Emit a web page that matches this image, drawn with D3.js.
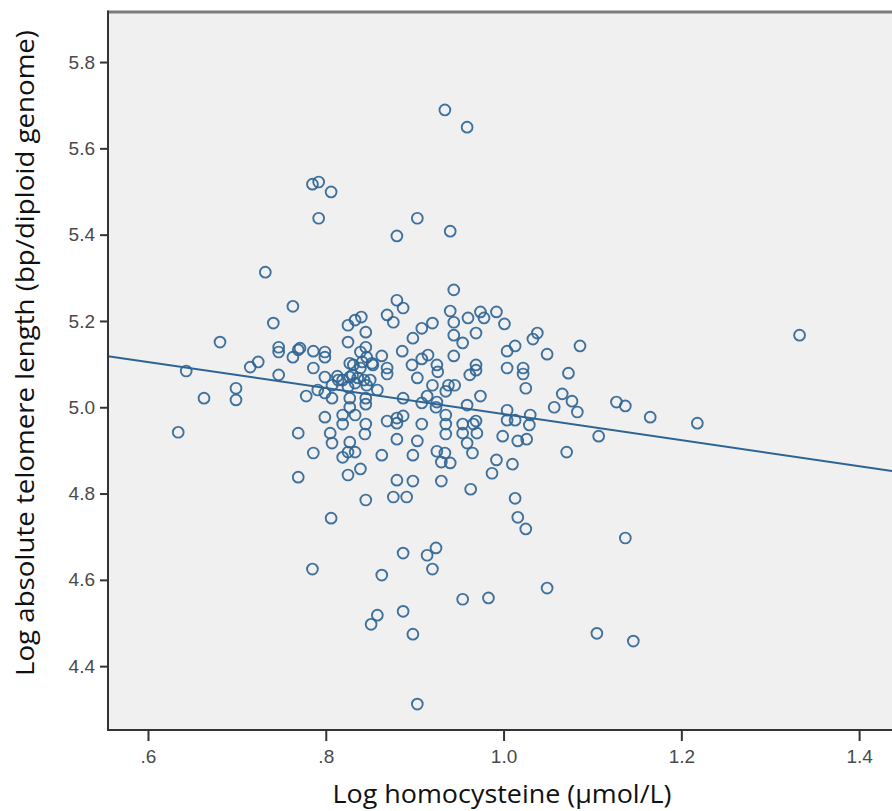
<!DOCTYPE html>
<head>
    <meta charset="utf-8">
    <title>Telomere length vs homocysteine</title>
    <script src="https://cdn.jsdelivr.net/npm/d3@7"></script>
    <style>
        body { margin: 0; background: #fff; }
    </style>
</head>
<body>
<div id="container"></div>

<script>

// Données (log homocysteine, log telomere length)
const hcy = [
    0.934, 0.959, 0.785, 0.792, 0.806, 0.792, 0.880, 0.903, 0.940, 0.732,
    0.763, 0.741, 0.681, 0.747, 0.747, 0.643, 0.715, 0.724, 0.747, 0.763,
    0.699, 0.699, 0.663, 0.634, 0.769, 0.769, 0.769,
    0.785, 0.887, 0.914, 0.924, 0.920, 0.863, 0.954, 0.983, 1.049, 0.858,
    0.851, 0.887, 0.898, 0.903, 1.105,
    1.333, 1.127, 1.137, 1.165, 1.218, 1.107, 1.137, 1.146,
    0.944, 0.940, 0.960, 0.974, 0.978, 0.992, 1.001, 0.944, 0.944, 0.954,
    0.969, 0.880, 0.887, 0.869, 0.876, 0.840, 0.833, 0.825, 0.845, 0.825,
    0.845, 0.839, 0.846, 0.852, 0.831, 0.839, 0.920, 0.908, 0.898, 0.886,
    0.915, 0.908, 0.925, 0.897, 0.869, 0.869, 0.863, 1.038, 1.033, 1.013,
    1.004, 1.049, 1.086, 0.944, 0.969, 0.969, 0.962, 1.004, 1.022, 1.022,
    1.073, 1.025, 0.771, 0.786, 0.799, 0.799, 0.786, 0.799, 0.813, 0.819,
    0.827, 0.833, 0.843, 0.846, 0.807, 0.791, 0.799, 0.807, 0.778, 0.825,
    0.858, 0.903, 0.920, 0.938, 0.945, 0.935, 0.914, 0.925, 0.924, 0.908,
    0.887, 0.974, 0.959, 1.004, 1.004, 1.013, 1.030, 1.029, 1.057, 1.066,
    1.077, 1.083, 0.827, 0.827, 0.845, 0.845, 0.799, 0.819, 0.819, 0.833,
    0.845, 0.844, 0.869, 0.880, 0.887, 0.880, 0.908, 0.935, 0.935, 0.935,
    0.954, 0.966, 0.969, 0.970, 0.954, 0.959, 0.965, 0.999, 1.016, 1.026,
    0.805, 0.807, 0.827, 0.833, 0.825, 0.819, 0.786, 0.863, 0.880, 0.903,
    0.898, 0.925, 0.934, 0.930, 0.940, 0.992, 0.987, 1.010, 1.071, 0.839,
    0.825, 0.880, 0.898, 0.930, 0.963, 0.876, 0.891, 0.845, 1.013, 1.016,
    1.025, 0.806,
    0.827, 0.841, 0.853, 0.830, 0.836, 0.850, 0.926, 0.814
];

const telomere = [
    5.689, 5.649, 5.517, 5.522, 5.499, 5.438, 5.397, 5.438, 5.408, 5.313,
    5.234, 5.195, 5.151, 5.139, 5.128, 5.084, 5.093, 5.105, 5.075, 5.116,
    5.044, 5.017, 5.021, 4.942, 4.940, 4.838, 5.133,
    4.625, 4.662, 4.657, 4.674, 4.625, 4.611, 4.555, 4.558, 4.581, 4.518,
    4.497, 4.527, 4.474, 4.312, 4.476,
    5.167, 5.012, 5.003, 4.977, 4.963, 4.933, 4.697, 4.458,
    5.272, 5.223, 5.207, 5.221, 5.207, 5.221, 5.193, 5.197, 5.167, 5.149,
    5.172, 5.248, 5.230, 5.214, 5.197, 5.209, 5.202, 5.190, 5.174, 5.151,
    5.139, 5.128, 5.116, 5.102, 5.098, 5.091, 5.195, 5.183, 5.160, 5.130,
    5.121, 5.112, 5.098, 5.098, 5.091, 5.077, 5.119, 5.172, 5.158, 5.142,
    5.130, 5.123, 5.142, 5.119, 5.098, 5.086, 5.075, 5.091, 5.091, 5.077,
    5.079, 5.044, 5.137, 5.130, 5.128, 5.116, 5.091, 5.070, 5.072, 5.063,
    5.070, 5.056, 5.063, 5.051, 5.051, 5.040, 5.033, 5.021, 5.026, 5.047,
    5.040, 5.068, 5.051, 5.051, 5.051, 5.037, 5.026, 5.012, 5.000, 5.010,
    5.021, 5.026, 5.005, 4.993, 4.970, 4.970, 4.982, 4.959, 5.000, 5.031,
    5.014, 4.989, 5.021, 5.000, 5.021, 5.007, 4.977, 4.982, 4.961, 4.982,
    4.961, 4.938, 4.968, 4.975, 4.980, 4.963, 4.961, 4.982, 4.961, 4.938,
    4.961, 4.961, 4.968, 4.940, 4.940, 4.917, 4.894, 4.933, 4.922, 4.926,
    4.940, 4.917, 4.919, 4.896, 4.896, 4.884, 4.894, 4.889, 4.926, 4.922,
    4.889, 4.898, 4.894, 4.873, 4.871, 4.878, 4.847, 4.868, 4.896, 4.857,
    4.843, 4.831, 4.829, 4.829, 4.810, 4.792, 4.792, 4.785, 4.789, 4.745,
    4.718, 4.743,
    5.102, 5.105, 5.098, 5.075, 5.068, 5.063, 5.082, 5.063
];

// Droite de régression
const fitIntercept = 5.286;
const fitSlope = -0.302;

const xTicks = [0.6, 0.8, 1.0, 1.2, 1.4];
const yTicks = [4.4, 4.6, 4.8, 5.0, 5.2, 5.4, 5.6, 5.8];

const xLabel = "Log homocysteine (µmol/L)";
const yLabel = "Log absolute telomere length (bp/diploid genome)";

// Dimensions
const width = 892;
const height = 811;
const marginTop = 12;
const marginRight = 0;
const marginBottom = 81;
const marginLeft = 108;

const svg = d3.create("svg")
              .attr("width", width)
              .attr("height", height);

const x = d3.scaleLinear()
            .domain([0.555, 1.437])
            .range([marginLeft, width - marginRight]);

const y = d3.scaleLinear()
            .domain([4.252, 5.916])
            .range([height - marginBottom, marginTop]);

const color = "#2e6494";

// Fond du graphique
svg.append("rect")
   .attr("x", marginLeft)
   .attr("y", marginTop)
   .attr("width", width - marginLeft - marginRight)
   .attr("height", height - marginTop - marginBottom)
   .attr("fill", "#f0f0f0");

// Points
const data = hcy.map((d, i) => ({x: d, y: telomere[i]}));

svg.append("g")
   .selectAll("circle")
   .data(data)
   .join("circle")
   .attr("cx", d => x(d.x))
   .attr("cy", d => y(d.y))
   .attr("r", 5.4)
   .attr("fill", "none")
   .attr("stroke", color)
   .attr("stroke-width", 1.9)
   .attr("stroke-opacity", 0.9);

// Droite
const xd = x.domain();
svg.append("line")
   .attr("x1", x(xd[0]))
   .attr("y1", y(fitIntercept + fitSlope * xd[0]))
   .attr("x2", x(xd[1]))
   .attr("y2", y(fitIntercept + fitSlope * xd[1]))
   .attr("stroke", color)
   .attr("stroke-width", 2);

// Axes
const fmtX = d => d < 1 ? d3.format(".1f")(d).replace(/^0/, "") : d3.format(".1f")(d);

const gx = svg.append("g")
   .attr("transform", `translate(0,${height - marginBottom})`)
   .call(d3.axisBottom(x).tickValues(xTicks).tickFormat(fmtX).tickSize(11).tickPadding(9));

const gy = svg.append("g")
   .attr("transform", `translate(${marginLeft},0)`)
   .call(d3.axisLeft(y).tickValues(yTicks).tickFormat(d3.format(".1f")).tickSize(8).tickPadding(5));

[gx, gy].forEach(g => {
    g.select(".domain").remove();
    g.selectAll(".tick line").attr("stroke", "#333").attr("stroke-width", 2);
    g.selectAll(".tick text")
     .attr("fill", "#4a4a4a")
     .style("font-family", "'Liberation Sans', Arial, sans-serif")
     .style("font-size", "19px");
});

// Cadre
svg.append("line")
   .attr("x1", marginLeft).attr("x2", width)
   .attr("y1", marginTop).attr("y2", marginTop)
   .attr("stroke", "#7c7c7c").attr("stroke-width", 3);

svg.append("line")
   .attr("x1", marginLeft).attr("x2", marginLeft)
   .attr("y1", marginTop - 1.5).attr("y2", height - marginBottom + 1)
   .attr("stroke", "#333").attr("stroke-width", 2);

svg.append("line")
   .attr("x1", marginLeft - 1).attr("x2", width)
   .attr("y1", height - marginBottom).attr("y2", height - marginBottom)
   .attr("stroke", "#333").attr("stroke-width", 2);

// Titres des axes
svg.append("text")
   .attr("x", 502)
   .attr("y", 803)
   .attr("text-anchor", "middle")
   .attr("fill", "#111")
   .attr("textLength", 339)
   .attr("lengthAdjust", "spacingAndGlyphs")
   .style("font-family", "'Open Sans', sans-serif")
   .style("font-size", "26px")
   .text(xLabel);

svg.append("text")
   .attr("transform", `translate(34,353) rotate(-90)`)
   .attr("text-anchor", "middle")
   .attr("fill", "#111")
   .attr("textLength", 646)
   .attr("lengthAdjust", "spacingAndGlyphs")
   .style("font-family", "'Open Sans', sans-serif")
   .style("font-size", "26px")
   .text(yLabel);

container.append(svg.node());

</script>
</body>
